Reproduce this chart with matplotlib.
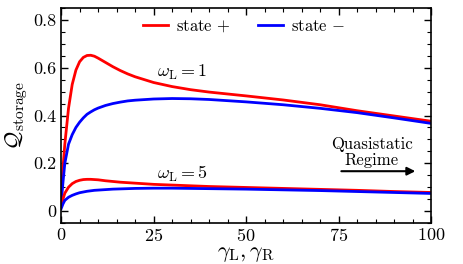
import matplotlib
matplotlib.use('Agg')
import matplotlib.pyplot as plt
from matplotlib.ticker import MultipleLocator

plt.rcParams['font.family'] = 'serif'
plt.rcParams['font.serif'] = ['cmr10', 'DejaVu Serif']
plt.rcParams['mathtext.fontset'] = 'cm'
plt.rcParams['axes.formatter.use_mathtext'] = True

# gamma_L = gamma_R
gamma = [0, 0.5, 1, 2, 3, 4, 5, 6, 7, 8, 9, 10, 12, 14, 16, 18, 20,
         25, 30, 35, 40, 45, 50, 60, 70, 80, 90, 100]

# omega_L = 1
q_plus_w1 = [0.05, 0.18, 0.28, 0.43, 0.53, 0.59, 0.625, 0.643, 0.651, 0.652,
             0.648, 0.64, 0.622, 0.604, 0.588, 0.574, 0.562,
             0.538, 0.521, 0.508, 0.498, 0.49, 0.482, 0.465, 0.445, 0.42, 0.398, 0.376]
q_minus_w1 = [0.03, 0.12, 0.2, 0.28, 0.32, 0.35, 0.372, 0.39, 0.405, 0.415,
              0.424, 0.431, 0.442, 0.45, 0.456, 0.461, 0.464,
              0.469, 0.471, 0.47, 0.467, 0.462, 0.457, 0.445, 0.43, 0.412, 0.39, 0.367]

# omega_L = 5
q_plus_w5 = [0.02, 0.05, 0.075, 0.1, 0.115, 0.124, 0.129, 0.132, 0.133, 0.133,
             0.132, 0.131, 0.127, 0.124, 0.121, 0.119, 0.117,
             0.112, 0.109, 0.106, 0.103, 0.101, 0.099, 0.095, 0.091, 0.087, 0.082, 0.078]
q_minus_w5 = [0.01, 0.03, 0.045, 0.058, 0.066, 0.072, 0.077, 0.08, 0.083, 0.085,
              0.087, 0.088, 0.09, 0.092, 0.093, 0.094, 0.095,
              0.096, 0.096, 0.095, 0.094, 0.093, 0.092, 0.089, 0.086, 0.082, 0.078, 0.074]

fig = plt.figure(figsize=(4.63, 2.64), dpi=100)
ax = fig.add_axes([0.132, 0.155, 0.799, 0.815])

ax.plot(gamma, q_plus_w1, color='red', lw=2, label='state $+$')
ax.plot(gamma, q_minus_w1, color='blue', lw=2, label='state $-$')
ax.plot(gamma, q_plus_w5, color='red', lw=2)
ax.plot(gamma, q_minus_w5, color='blue', lw=2)

ax.set_xlim(0, 100)
ax.set_ylim(-0.05, 0.85)
ax.set_xticks([0, 25, 50, 75, 100])
ax.set_yticks([0, 0.2, 0.4, 0.6, 0.8])
ax.set_yticklabels(['0', '0.2', '0.4', '0.6', '0.8'])
ax.xaxis.set_minor_locator(MultipleLocator(5))
ax.yaxis.set_minor_locator(MultipleLocator(0.05))
ax.tick_params(which='both', direction='in', top=True, right=True, labelsize=13)
ax.tick_params(which='major', length=5, width=1)
ax.tick_params(which='minor', length=3, width=0.8)
ax.tick_params(axis='x', pad=3)
for s in ax.spines.values():
    s.set_linewidth(1.2)

ax.set_xlabel(r'$\gamma_{\rm L},\gamma_{\rm R}$', fontsize=16, labelpad=0)
ax.set_ylabel(r'$\mathcal{Q}_{\rm storage}$', fontsize=16, labelpad=2)

ax.text(26, 0.58, r'$\omega_{\rm L}=1$', fontsize=13, va='center')
ax.text(26, 0.154, r'$\omega_{\rm L}=5$', fontsize=13, va='center')
ax.text(84, 0.246, 'Quasistatic\nRegime', fontsize=12, ha='center', va='center',
        linespacing=1.05)
ax.annotate('', xy=(96.5, 0.167), xytext=(75, 0.167),
            arrowprops=dict(arrowstyle='-|>', color='black', lw=1.5, mutation_scale=12))

ax.legend(loc='upper center', ncol=2, frameon=False, fontsize=12,
          handlelength=1.5, columnspacing=1.6, handletextpad=0.5,
          bbox_to_anchor=(0.495, 1.02))

fig.savefig('out.png', dpi=100)
